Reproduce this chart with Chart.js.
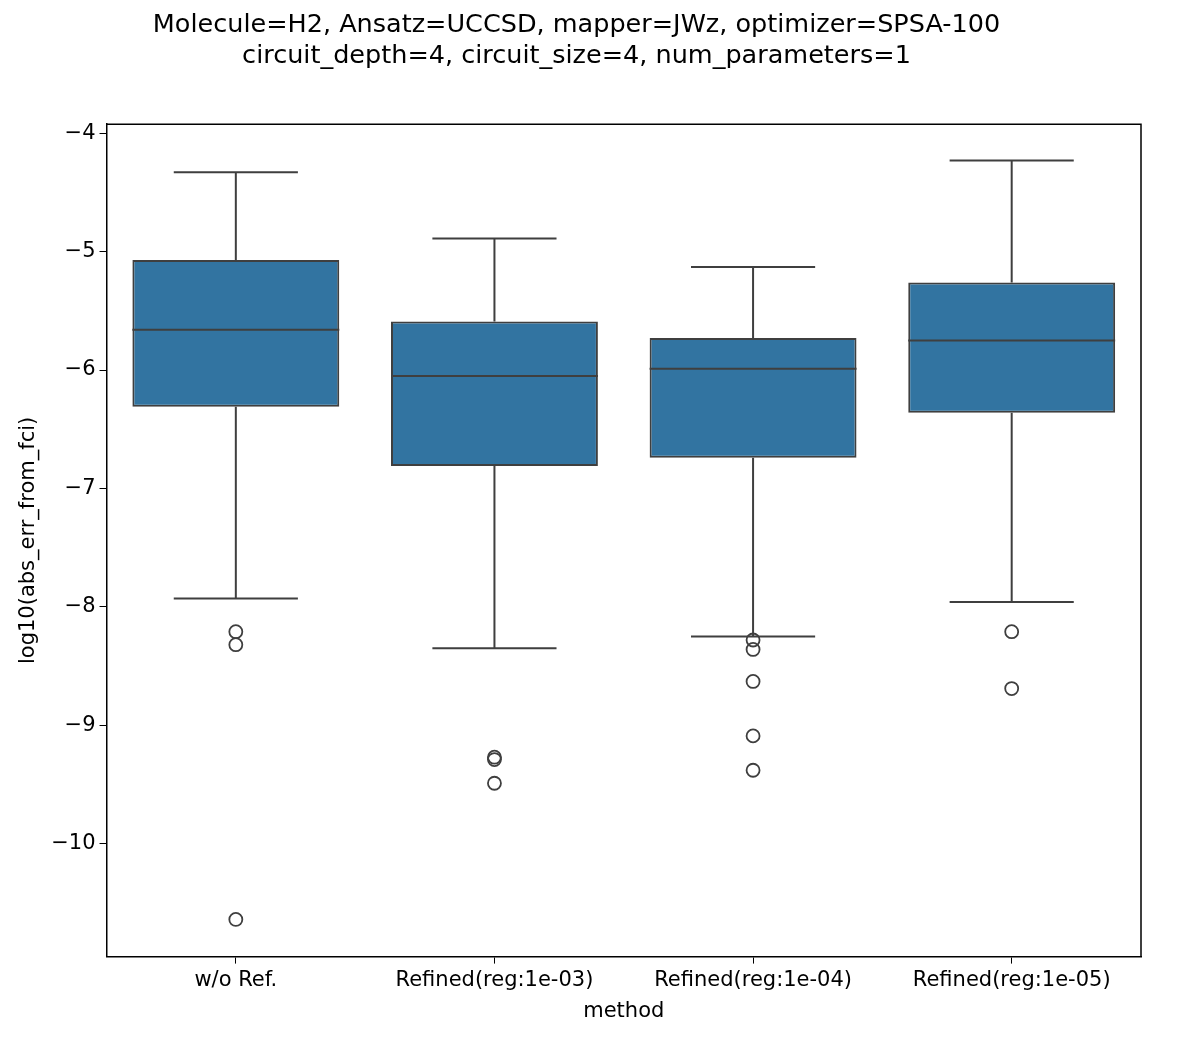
<!DOCTYPE html>
<html><head><meta charset="utf-8">
<script src="https://cdn.jsdelivr.net/npm/chart.js@4"></script>
<style>body{margin:0;background:#fff}canvas{display:block}</style>
</head><body>
<canvas id="c" width="1200" height="1039"></canvas>
<script>
const categories = ["w/o Ref.", "Refined(reg:1e-03)", "Refined(reg:1e-04)", "Refined(reg:1e-05)"];
const whiskerHigh = [-4.33, -4.89, -5.13, -4.23];
const q3 = [-5.07, -5.59, -5.73, -5.26];
const median = [-5.66, -6.05, -5.99, -5.75];
const q1 = [-6.31, -6.81, -6.74, -6.36];
const whiskerLow = [-7.93, -8.35, -8.25, -7.96];
const outliers = [
  [-8.21, -8.32, -10.64],
  [-9.27, -9.29, -9.49],
  [-8.28, -8.36, -8.63, -9.09, -9.38],
  [-8.21, -8.69]
];
const yTicks = [-4, -5, -6, -7, -8, -9, -10];

const lineColor = '#3f3f3f';
const fontFam = '"DejaVu Sans", sans-serif';

const outlierPts = [];
outliers.forEach((arr, i) => arr.forEach(v => outlierPts.push({x: categories[i], y: v})));

const boxPlugin = {
  id: 'boxparts',
  afterDatasetsDraw(chart) {
    const ctx = chart.ctx, ys = chart.scales.y;
    const meta = chart.getDatasetMeta(0);
    ctx.save();
    ctx.strokeStyle = lineColor;
    ctx.lineWidth = 2;
    meta.data.forEach((bar, i) => {
      const x = bar.x, w = bar.width, cap = w * 0.3;
      const yq3 = ys.getPixelForValue(q3[i]), yq1 = ys.getPixelForValue(q1[i]);
      const yh = ys.getPixelForValue(whiskerHigh[i]), yl = ys.getPixelForValue(whiskerLow[i]);
      const ym = ys.getPixelForValue(median[i]);
      ctx.beginPath();
      ctx.moveTo(x, yq3); ctx.lineTo(x, yh);
      ctx.moveTo(x - cap, yh); ctx.lineTo(x + cap, yh);
      ctx.moveTo(x, yq1); ctx.lineTo(x, yl);
      ctx.moveTo(x - cap, yl); ctx.lineTo(x + cap, yl);
      ctx.moveTo(x - w / 2, ym); ctx.lineTo(x + w / 2, ym);
      ctx.stroke();
    });
    ctx.restore();
  }
};

new Chart(document.getElementById('c'), {
  data: {
    labels: categories,
    datasets: [
      {
        type: 'bar',
        data: categories.map((c, i) => [q1[i], q3[i]]),
        backgroundColor: '#3274a1',
        borderColor: lineColor,
        borderWidth: 2,
        borderSkipped: false,
        categoryPercentage: 0.8,
        barPercentage: 1.0
      },
      {
        type: 'scatter',
        data: outlierPts,
        pointStyle: 'circle',
        pointRadius: 6.5,
        pointBackgroundColor: 'rgba(0,0,0,0)',
        pointBorderColor: lineColor,
        pointBorderWidth: 1.8
      }
    ]
  },
  options: {
    responsive: false,
    animation: false,
    layout: {padding: {left: 12, right: 59, top: 10, bottom: 11}},
    plugins: {
      legend: {display: false},
      tooltip: {enabled: false},
      title: {
        display: true,
        text: ['Molecule=H2, Ansatz=UCCSD, mapper=JWz, optimizer=SPSA-100', 'circuit_depth=4, circuit_size=4, num_parameters=1'],
        color: '#000',
        font: {family: fontFam, size: 25.5, weight: 'normal'},
        lineHeight: 1.2,
        padding: {top: 0, bottom: 53}
      }
    },
    scales: {
      x: {
        type: 'category',
        offset: true,
        grid: {display: true, offset: false, drawOnChartArea: false, tickLength: 7, color: '#000'},
        border: {display: true, color: '#000', width: 1.5},
        ticks: {color: '#000', font: {family: fontFam, size: 21}, padding: 4},
        title: {display: true, text: 'method', color: '#000', font: {family: fontFam, size: 21}, padding: {top: 2}}
      },
      y: {
        type: 'linear',
        min: -10.954, max: -3.924,
        afterBuildTicks: s => { s.ticks = yTicks.map(v => ({value: v})); },
        grid: {display: true, drawOnChartArea: false, tickLength: 7, color: '#000'},
        border: {display: true, color: '#000', width: 1.5},
        ticks: {color: '#000', font: {family: fontFam, size: 21}, padding: 4,
          callback: v => String(v).replace('-', '\u2212')},
        title: {display: true, text: 'log10(abs_err_from_fci)', color: '#000', font: {family: fontFam, size: 21}, padding: {bottom: 6}}
      }
    }
  },
  plugins: [boxPlugin, {
    id: 'rightTop',
    afterDraw(chart) {
      const {ctx, chartArea: a} = chart;
      ctx.save(); ctx.strokeStyle = '#000'; ctx.lineWidth = 1.5;
      ctx.beginPath(); ctx.moveTo(a.left, a.top); ctx.lineTo(a.right, a.top); ctx.lineTo(a.right, a.bottom); ctx.stroke();
      ctx.restore();
    }
  }]
});
</script>
</body></html>
